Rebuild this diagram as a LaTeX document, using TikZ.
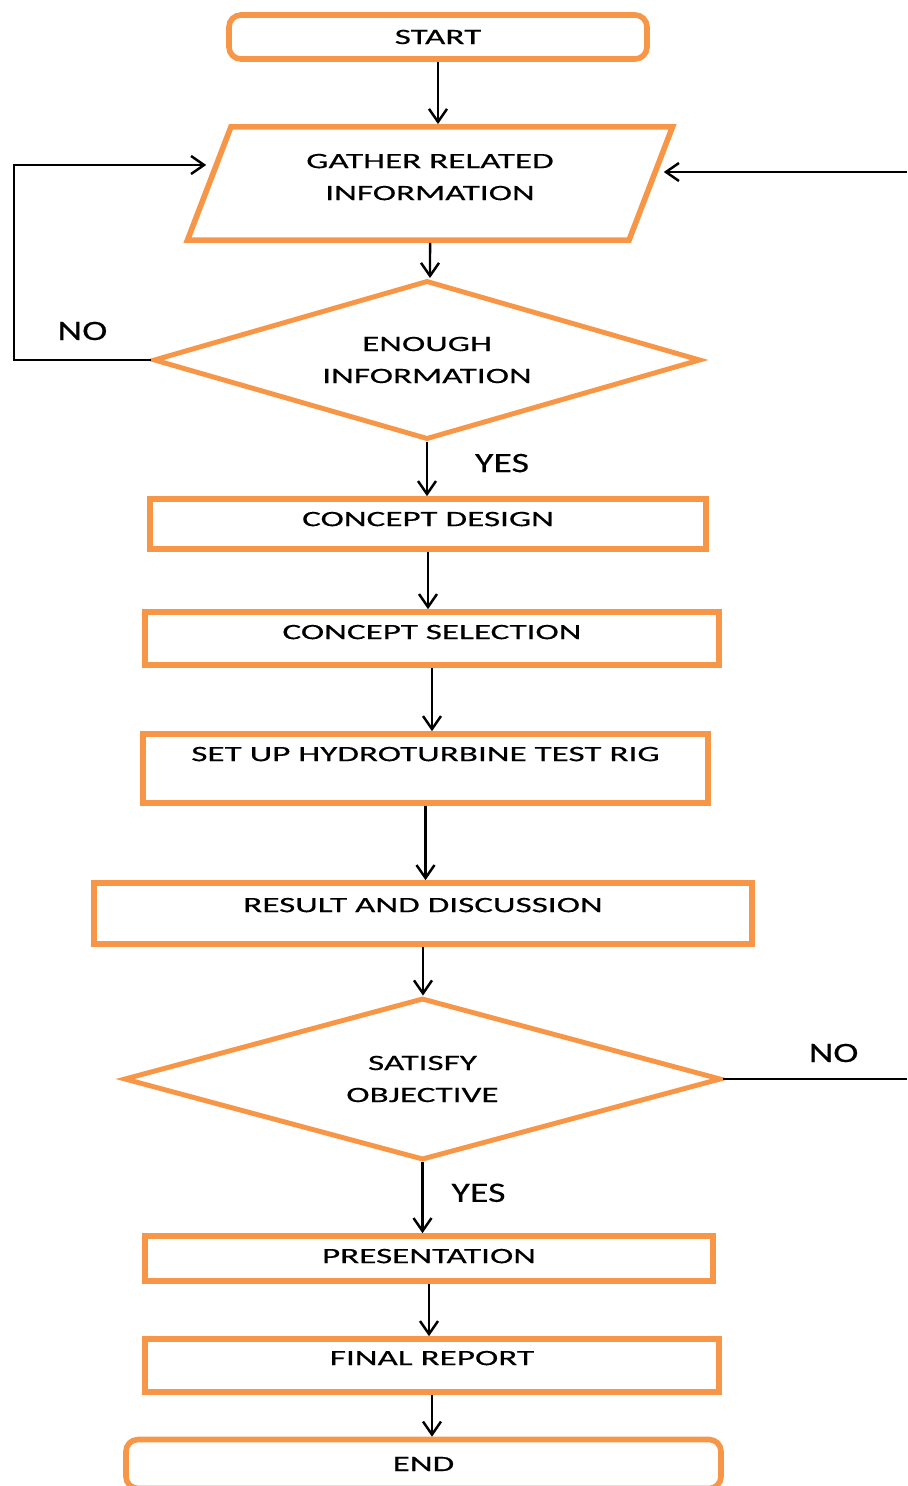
\documentclass[tikz,border=0pt]{standalone}
\usepackage{fontspec}
\setmainfont{Carlito}[FakeStretch=1.6,FakeBold=0.4]
\newfontfamily\answerfont{Carlito}[FakeStretch=1.35,FakeBold=0.3]
\usepackage{tikz}
\usetikzlibrary{shapes.geometric,arrows.meta}
\definecolor{chartorange}{HTML}{F79646}
\tikzset{
  termbox/.style ={rectangle, rounded corners=2.4mm, draw=chartorange, line width=3.2pt,
                   align=center, inner sep=0pt, font=\fontsize{12.5}{18.2}\selectfont},
  procbox/.style ={rectangle, draw=chartorange, line width=3.2pt,
                   align=center, inner sep=0pt, font=\fontsize{12.5}{18.2}\selectfont},
  iobox/.style   ={trapezium, trapezium left angle=69, trapezium right angle=111,
                   trapezium stretches body=true,
                   draw=chartorange, line width=3.2pt, align=center, inner xsep=0pt,
                   font=\fontsize{12.5}{18.2}\selectfont},
  decide/.style  ={diamond, aspect=3.4, draw=chartorange, line width=2.8pt, align=center,
                   inner sep=0pt, font=\fontsize{12.5}{18.2}\selectfont},
  link/.style    ={line width=1.4pt, draw=black},
  flow/.style    ={link, -{Straight Barb[length=2.6mm,width=3.6mm]}},
  answer/.style  ={font=\answerfont\fontsize{16}{19}\selectfont, inner sep=0pt}
}

\begin{document}
\begin{tikzpicture}[x=0.2mm, y=-0.2mm]
  \useasboundingbox (0,0) rectangle (907,1486);
  \node[termbox, minimum width=8.36cm, minimum height=0.88cm]  (start)   at (438,37)     {START};
  \node[iobox, minimum width=9.7cm, inner ysep=0.54cm, text depth=0.26cm]
                                                              (gather)  at (430,183.5)  {GATHER RELATED\\INFORMATION};
  \node[decide, minimum width=10.94cm, minimum height=3.18cm] (enough)  at (427,360)    {ENOUGH\\INFORMATION};
  \node[procbox, minimum width=11.12cm, minimum height=1.0cm, text depth=0.2cm]
                                                              (design)  at (428,524)    {CONCEPT DESIGN};
  \node[procbox, minimum width=11.48cm, minimum height=1.06cm, text depth=0.26cm]
                                                              (select)  at (432,638.5)  {CONCEPT SELECTION};
  \node[procbox, minimum width=11.3cm, minimum height=1.38cm, text depth=0.58cm]
                                                              (rig)     at (425.5,768.5) {SET UP HYDROTURBINE TEST RIG};
  \node[procbox, minimum width=13.16cm, minimum height=1.22cm, text depth=0.34cm]
                                                              (result)  at (423,913.5)  {RESULT AND DISCUSSION};
  \node[decide, minimum width=11.94cm, minimum height=3.24cm] (satisfy) at (422.5,1079) {SATISFY\\OBJECTIVE};
  \node[procbox, minimum width=11.36cm, minimum height=0.9cm, text depth=0.1cm]
                                                              (present) at (429,1258.5) {PRESENTATION};
  \node[procbox, minimum width=11.48cm, minimum height=1.06cm, text depth=0.3cm]
                                                              (report)  at (432,1365.5) {FINAL REPORT};
  \node[termbox, minimum width=11.9cm, minimum height=0.98cm] (finish)  at (423.5,1464) {END};

  % loose ends of the two loops
  \coordinate (backleft)  at (14,165);
  \coordinate (backright) at (907,172);
  \coordinate (noright)   at (907,1079);

  \draw[flow] (start)   -- (start |- gather.north);
  \draw[flow] (gather)  -- (gather |- enough.north);
  \draw[flow] (enough)  -- (enough |- design.north)
    node[answer, midway, xshift=1.5cm, yshift=0.12cm] {YES};
  \draw[flow] (design)  -- (design |- select.north);
  \draw[flow] (select)  -- (select |- rig.north);
  \draw[flow] (rig)     -- (rig |- result.north);
  \draw[flow] (result)  -- (result |- satisfy.north);
  \draw[flow] (satisfy) -- (satisfy |- present.north)
    node[answer, midway, xshift=1.12cm, yshift=0.1cm] {YES};
  \draw[flow] (present) -- (present |- report.north);
  \draw[flow] (report)  -- (report |- finish.north);

  \draw[flow] (enough.west) -| (backleft)
    node[answer, pos=0.25, yshift=0.58cm] {NO}
    -- (backleft -| gather.west);
  \draw[link] (satisfy.east) -- (noright)
    node[answer, pos=0.6, yshift=0.52cm] {NO};
  \draw[flow] (backright) -- ([xshift=2mm]backright -| gather.east);
\end{tikzpicture}
\end{document}
